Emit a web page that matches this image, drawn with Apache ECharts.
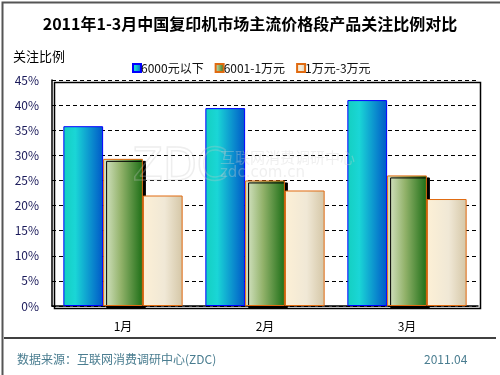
<!DOCTYPE html>
<html>
<head>
<meta charset="utf-8">
<script src="https://cdn.jsdelivr.net/npm/echarts@6/dist/echarts.min.js"></script>
<style>
html,body{margin:0;padding:0;background:#fff;}
#chart{width:500px;height:375px;}
</style>
</head>
<body>
<div id="chart"></div>
<script>
var months = ['1月', '2月', '3月'];
var seriesNames = ['6000元以下', '6001-1万元', '1万元-3万元'];
var below6000 = [35.8, 39.4, 41.0];
var from6001To1w = [29.3, 25.0, 26.0];
var from1wTo3w = [22.0, 23.0, 21.3];

var FONT = '"Noto Sans CJK SC", "DejaVu Sans", sans-serif';

var blueFill = new echarts.graphic.LinearGradient(0, 0, 1, 0, [
	{offset: 0, color: '#14cfc0'},
	{offset: 0.3, color: '#1ad6d6'},
	{offset: 1, color: '#0058c8'}
]);
var greenFill = new echarts.graphic.LinearGradient(0, 0, 1, 0, [
	{offset: 0, color: '#dbe8cc'},
	{offset: 0.45, color: '#92b26a'},
	{offset: 1, color: '#1c6e16'}
]);
var beigeFill = new echarts.graphic.LinearGradient(0, 0, 1, 0, [
	{offset: 0, color: '#fdf0d6'},
	{offset: 0.55, color: '#f0e8d6'},
	{offset: 1, color: '#d4c6a6'}
]);

var option = {
	animation: false,
	backgroundColor: '#fff',
	textStyle: {fontFamily: FONT},
	grid: {left: 52, right: 22, top: 80, bottom: 69},
	legend: {
		left: 127,
		top: 57,
		icon: 'rect',
		itemWidth: 8,
		itemHeight: 8,
		itemGap: 11,
		textStyle: {fontSize: 12, color: '#111', fontFamily: FONT, padding: [0, 0, 0, -5]},
		data: seriesNames
	},
	xAxis: {
		type: 'category',
		data: months,
		axisLine: {lineStyle: {color: '#000', width: 1.5}},
		axisTick: {inside: true, length: 4, lineStyle: {color: '#000'}},
		axisLabel: {color: '#000', fontSize: 12, margin: 14}
	},
	yAxis: {
		type: 'value',
		min: 0,
		max: 45,
		interval: 5,
		axisLine: {show: true, lineStyle: {color: '#000', width: 1.5}},
		axisTick: {show: false},
		axisLabel: {formatter: '{value}%', color: '#1a1a5a', fontSize: 12, margin: 13},
		splitLine: {lineStyle: {color: '#000', type: [4, 3], width: 1}}
	},
	series: [
		{
			name: seriesNames[0],
			type: 'bar',
			data: below6000,
			barCategoryGap: '16%',
			barGap: '0%',
			itemStyle: {color: blueFill, borderColor: '#0000ff', borderWidth: 1}
		},
		{
			name: seriesNames[1],
			type: 'bar',
			data: from6001To1w,
			itemStyle: {
				color: greenFill, borderColor: '#e06a10', borderWidth: 1,
				shadowColor: '#000', shadowOffsetX: 3, shadowOffsetY: 2, shadowBlur: 0
			}
		},
		{
			name: seriesNames[2],
			type: 'bar',
			data: from1wTo3w,
			itemStyle: {color: beigeFill, borderColor: '#e06a10', borderWidth: 1}
		}
	],
	graphic: [
		{type: 'rect', left: 0, top: 0, z: -10, shape: {width: 499, height: 374},
			style: {fill: 'none', stroke: '#555', lineWidth: 2}},
		{type: 'rect', left: 52, top: 80, z: 10, silent: true, shape: {width: 426, height: 226},
			style: {fill: 'none', stroke: '#000', lineWidth: 1.5}},
		{type: 'text', left: 'center', top: 16,
			style: {text: '2011年1-3月中国复印机市场主流价格段产品关注比例对比', font: 'bold 16px ' + FONT, fill: '#000'}},
		{type: 'text', left: 13, top: 50,
			style: {text: '关注比例', font: '13px ' + FONT, fill: '#000'}},
		{type: 'line', z: 10, shape: {x1: 4, y1: 338, x2: 496, y2: 338},
			style: {stroke: '#000', lineWidth: 1.5}},
		{type: 'text', left: 17, top: 353,
			style: {text: '数据来源：互联网消费调研中心(ZDC)', font: '12px ' + FONT, fill: '#4a7d90'}},
		{type: 'text', left: 424, top: 353,
			style: {text: '2011.04', font: '12px ' + FONT, fill: '#4a7d90'}},
		{type: 'text', left: 132, top: 146, z: 20, silent: true,
			style: {text: 'ZDC', font: '44px "DejaVu Sans"', fill: 'rgba(255,255,255,0)', stroke: 'rgba(200,200,200,0.3)', lineWidth: 1.5}},
		{type: 'text', left: 220, top: 150, z: 20, silent: true,
			style: {text: '互联网消费调研中心', font: '15px ' + FONT, fill: 'rgba(210,210,210,0.35)'}},
		{type: 'text', left: 220, top: 166, z: 20, silent: true,
			style: {text: 'zdc.com.cn', font: '15px "DejaVu Sans"', fill: 'rgba(210,210,210,0.35)'}}
	]
};

var myChart = echarts.init(document.getElementById('chart'), null, {renderer: 'canvas'});
myChart.setOption(option);
</script>
</body>
</html>
